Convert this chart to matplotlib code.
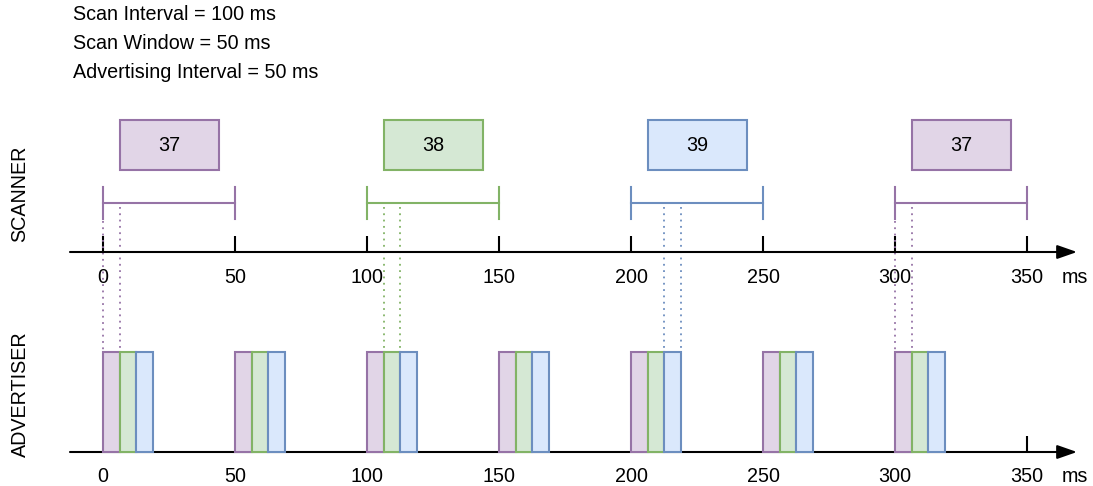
import matplotlib
matplotlib.use("Agg")
import matplotlib.pyplot as plt
from matplotlib.patches import Rectangle

# ---- data ----
header_lines = ["Scan Interval = 100 ms", "Scan Window = 50 ms", "Advertising Interval = 50 ms"]
scan_starts = [0, 100, 200, 300]
scan_channels = [37, 38, 39, 37]
scan_window = 50
adv_starts = [0, 50, 100, 150, 200, 250, 300]
adv_channels = [37, 38, 39]
packet_len = 6.25
tick_values = [0, 50, 100, 150, 200, 250, 300, 350]
adv_tick_marks = [350]
unit_label = "ms"

# ---- style ----
fills = {37: "#e1d5e7", 38: "#d5e8d4", 39: "#dae8fc"}
edges = {37: "#9673a6", 38: "#82b366", 39: "#6c8ebf"}
FONT = "Liberation Sans"
FS = 14.2

W, H = 1093, 486
PX0, PXMS = 103, 2.64
fig = plt.figure(figsize=(W / 100, H / 100), dpi=100)
ax = fig.add_axes([0, 0, 1, 1])
ax.set_xlim(-PX0 / PXMS, (W - PX0) / PXMS)
ax.set_ylim(H, 0)
ax.axis("off")

def px2ms(px):
    return (px - PX0) / PXMS

axis_x0, axis_x1 = px2ms(70), px2ms(1077)

# header text
for i, line in enumerate(header_lines):
    ax.text(px2ms(73), 15 + i * 28.5, line, fontsize=FS, family=FONT, va="center", ha="left")

# side labels
ax.text(px2ms(20), 194, "SCANNER", rotation=90, fontsize=FS, family=FONT, va="center", ha="center")
ax.text(px2ms(20), 394, "ADVERTISER", rotation=90, fontsize=FS, family=FONT, va="center", ha="center")

# axes with arrows
for y in (252, 452):
    ax.annotate("", xy=(axis_x1, y), xytext=(axis_x0, y),
                arrowprops=dict(arrowstyle="-|>,head_length=1.2,head_width=0.42", lw=1.5,
                                color="black", shrinkA=0, shrinkB=0))

# scanner ticks & labels
for t in tick_values:
    ax.plot([t, t], [236, 252], color="black", lw=1.5, solid_capstyle="butt")
    ax.text(t, 277, str(t), fontsize=FS, family=FONT, ha="center", va="center")
ax.text(px2ms(1075), 277, unit_label, fontsize=FS, family=FONT, ha="center", va="center")

# advertiser ticks & labels
for t in adv_tick_marks:
    ax.plot([t, t], [436, 452], color="black", lw=1.5, solid_capstyle="butt")
for t in tick_values:
    ax.text(t, 476, str(t), fontsize=FS, family=FONT, ha="center", va="center")
ax.text(px2ms(1075), 476, unit_label, fontsize=FS, family=FONT, ha="center", va="center")

# scan windows
box_w = 37.5
for s, ch in zip(scan_starts, scan_channels):
    c = edges[ch]
    ax.plot([s, s + scan_window], [203, 203], color=c, lw=1.5)
    for xx in (s, s + scan_window):
        ax.plot([xx, xx], [187, 219], color=c, lw=1.5)
    cx = s + scan_window / 2
    ax.add_patch(Rectangle((cx - box_w / 2, 120), box_w, 50, facecolor=fills[ch], edgecolor=c, lw=1.5))
    ax.text(cx, 145, str(ch), fontsize=FS, family=FONT, ha="center", va="center")
    # dotted lines to matching packet
    k = adv_channels.index(ch)
    for xx in (s + k * packet_len, s + (k + 1) * packet_len):
        top = 221 if xx == s else 207
        ax.plot([xx, xx], [top, 352], color=c, lw=1.3, linestyle=(0, (1, 2.5)))

# advertising packets
for a in adv_starts:
    for k, ch in enumerate(adv_channels):
        ax.add_patch(Rectangle((a + k * packet_len, 352), packet_len, 100,
                               facecolor=fills[ch], edgecolor=edges[ch], lw=1.5, zorder=3))

fig.savefig("out.png", dpi=100)
